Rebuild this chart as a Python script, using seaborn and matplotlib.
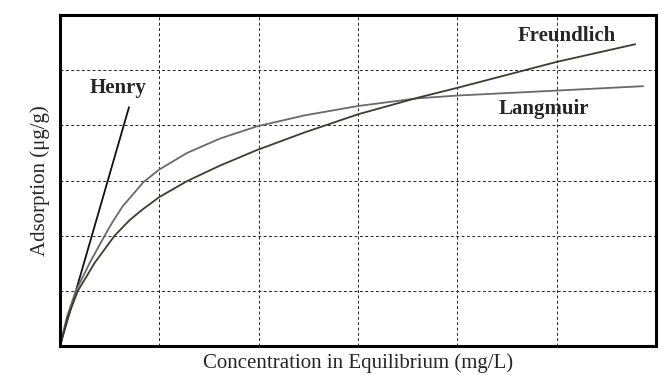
import matplotlib
matplotlib.use("Agg")
import matplotlib.pyplot as plt
import seaborn as sns
import pandas as pd

# values (grid units, 0..6 on both axes)
henry_x = [0.0, 0.695]
henry_y = [0.0, 4.33]

langmuir_x = [0.0, 0.07, 0.16, 0.30, 0.45, 0.53, 0.63, 0.84, 1.0, 1.28, 1.61, 1.98,
              2.46, 3.0, 3.6, 4.0, 5.0, 5.87]
langmuir_y = [0.0, 0.53, 1.0, 1.51, 2.0, 2.25, 2.53, 2.97, 3.2, 3.5, 3.76, 3.98,
              4.18, 4.35, 4.49, 4.54, 4.63, 4.71]

freundlich_x = [0.0, 0.08, 0.18, 0.35, 0.55, 0.70, 0.82, 1.0, 1.28, 1.61, 1.98,
                2.46, 3.0, 3.6, 4.0, 5.0, 5.79]
freundlich_y = [0.0, 0.53, 1.0, 1.51, 2.0, 2.28, 2.46, 2.7, 2.99, 3.27, 3.55,
                3.87, 4.2, 4.5, 4.68, 5.15, 5.47]

labels = ["Henry", "Freundlich", "Langmuir"]
label_x = [0.58, 5.1, 4.87]
label_y = [4.67, 5.62, 4.29]

df = pd.concat([
    pd.DataFrame({"C": henry_x, "q": henry_y, "model": "Henry"}),
    pd.DataFrame({"C": langmuir_x, "q": langmuir_y, "model": "Langmuir"}),
    pd.DataFrame({"C": freundlich_x, "q": freundlich_y, "model": "Freundlich"}),
])

sns.set_style("white")
plt.rcParams['font.family'] = ['Liberation Serif', 'DejaVu Serif']

fig = plt.figure(figsize=(6.62, 3.75), dpi=100)
ax = fig.add_axes([0.0906, 0.0773, 0.9004, 0.8827])

palette = {"Henry": "#111111", "Langmuir": "#6a6a6a", "Freundlich": "#3c3c30"}
sns.lineplot(data=df, x="C", y="q", hue="model", palette=palette, sort=False,
             estimator=None, linewidth=1.3, legend=False, ax=ax)

ax.set_xlim(0, 6)
ax.set_ylim(0, 6)
ax.set_xticks([1, 2, 3, 4, 5])
ax.set_yticks([1, 2, 3, 4, 5])
ax.grid(True, color="#222222", linestyle=(0, (3, 2.5)), linewidth=0.7)
ax.tick_params(length=0, labelbottom=False, labelleft=False)
for s in ax.spines.values():
    s.set_visible(True)
    s.set_color("black")
    s.set_linewidth(2.2)

for t, x, y in zip(labels, label_x, label_y):
    ax.text(x, y, t, ha="center", va="center", fontsize=15, fontweight="bold")

ax.set_xlabel("Concentration in Equilibrium (mg/L)", fontsize=15, labelpad=5)
ax.set_ylabel("Adsorption (μg/g)", fontsize=15, labelpad=7)

plt.savefig("out.png", dpi=100)
plt.close()
